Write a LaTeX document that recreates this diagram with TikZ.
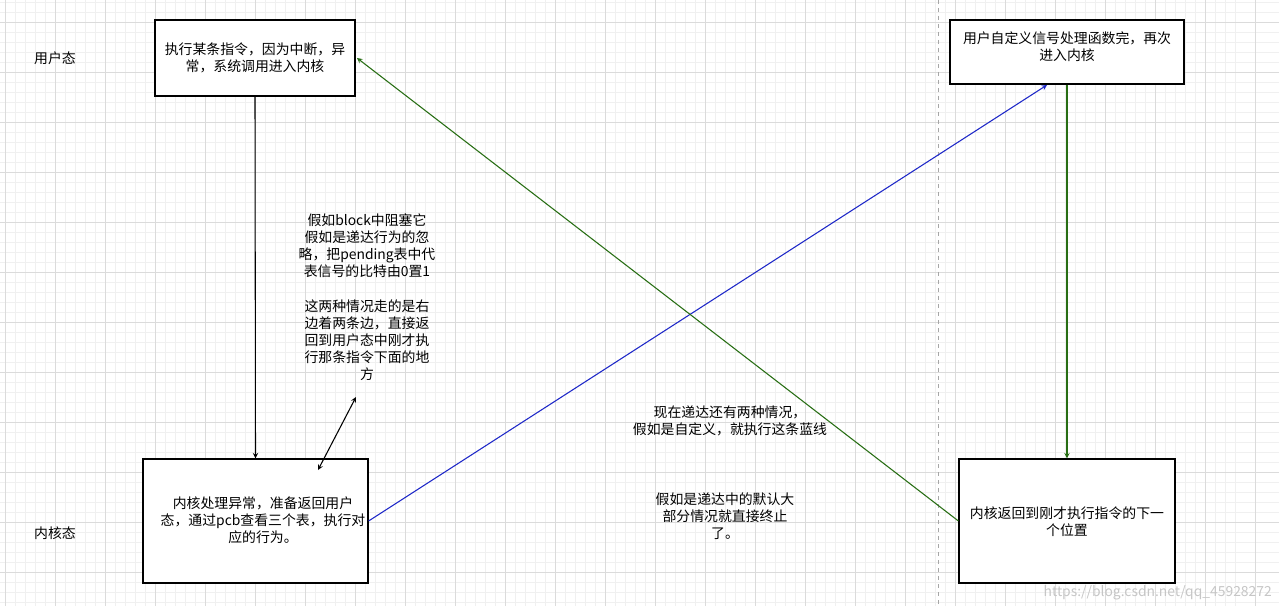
\documentclass[tikz,border=0pt]{standalone}
\usepackage{fontspec}
\setmainfont{Noto Sans CJK SC}
\begin{document}
\begin{tikzpicture}[x=0.75pt,y=-0.75pt,
  box/.style={draw=black,line width=0.9pt,fill=white,inner sep=0},
  txt/.style={align=center,font=\fontsize{10.4}{12.9}\selectfont,inner sep=0},
  arr/.style={-stealth,line width=0.8pt}]
\useasboundingbox (0,0) rectangle (1279,606);
\fill[white] (0,0) rectangle (1279,606);
\foreach \i in {0,...,128} {\draw[gray!12,line width=0.4pt] (5+\i*10-50,0) -- (5+\i*10-50,606);}
\foreach \i in {0,...,61} {\draw[gray!12,line width=0.4pt] (0,\i*10+2) -- (1279,\i*10+2);}
\foreach \i in {0,...,25} {\draw[gray!28,line width=0.5pt] (5+\i*50,0) -- (5+\i*50,606);}
\foreach \i in {0,...,12} {\draw[gray!28,line width=0.5pt] (0,22+\i*50-50) -- (1279,22+\i*50-50);}
\draw[gray!70,dashed,line width=0.6pt] (938,0) -- (938,606);
\node[box,minimum width=200*0.75pt,minimum height=76*0.75pt] (A) at (255,58) {};
\node[txt] at (255,58) {执行某条指令，因为中断，异\\常，系统调用进入内核};
\node[box,minimum width=225*0.75pt,minimum height=124*0.75pt] (B) at (255.5,521) {};
\node[txt] at (263,520) {内核处理异常，准备返回用户\\态，通过pcb查看三个表，执行对\\应的行为。};
\node[box,minimum width=234*0.75pt,minimum height=64*0.75pt] (C) at (1067,52) {};
\node[txt] at (1067,47) {用户自定义信号处理函数完，再次\\进入内核};
\node[box,minimum width=216*0.75pt,minimum height=124*0.75pt] (D) at (1067,521) {};
\node[txt] at (1067,522) {内核返回到刚才执行指令的下一\\个位置};
\node[txt] (u) at (55,58) {用户态};
\node[txt] (k) at (55,533) {内核态};
\node[txt,anchor=north] (note) at (367,213) {假如block中阻塞它\\假如是递达行为的忽\\略，把pending表中代\\表信号的比特由0置1\\\\这两种情况走的是右\\边着两条边，直接返\\回到用户态中刚才执\\行那条指令下面的地\\方};
\node[txt] (t1) at (730,421) {现在递达还有两种情况，\\假如是自定义，就执行这条蓝线};
\node[txt] (t2) at (725,516) {假如是递达中的默认大\\部分情况就直接终止\\了。};
\node[txt,text=gray!45,anchor=south east] (w) at (1272,600) {https://blog.csdn.net/qq\_45928272};
\coordinate (nb) at (356,397);
\coordinate (bt) at (318,470);
\draw[arr] (A.south) -- (B.north);
\draw[arr,stealth-stealth] (bt) -- (nb);
\draw[arr,draw={rgb,255:red,30;green,40;blue,200}] (B.east) -- (1047,85);
\draw[arr,draw={rgb,255:red,40;green,110;blue,20}] (D.west) -- (357,58);
\draw[arr,draw={rgb,255:red,40;green,110;blue,20}] (C.south) -- (D.north);
\end{tikzpicture}
\end{document}
